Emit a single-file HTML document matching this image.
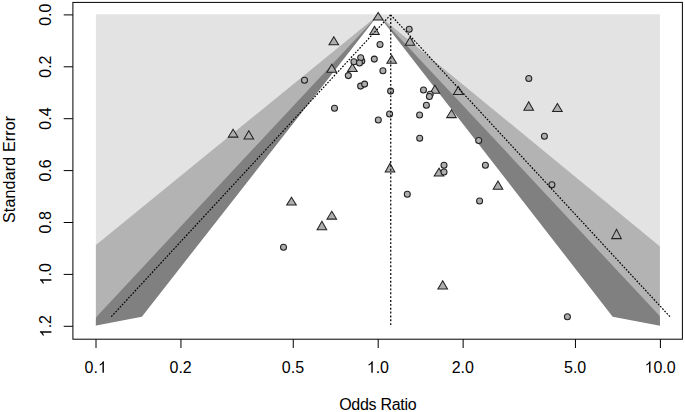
<!DOCTYPE html>
<html><head><meta charset="utf-8"><style>
html,body{margin:0;padding:0;background:#fff;width:685px;height:412px;overflow:hidden}
svg{position:absolute;left:0;top:0}
text{font-family:"Liberation Sans",sans-serif;font-size:16px;fill:#000}
</style></head><body>
<svg width="685" height="412" viewBox="0 0 685 412">
<defs><clipPath id="c"><rect x="95.90" y="14.30" width="564.00" height="312.00"/></clipPath>
<clipPath id="c2"><rect x="95.90" y="14.30" width="564.00" height="315.00"/></clipPath></defs>

<rect x="95.90" y="14.30" width="564.00" height="312.00" fill="#e3e3e3"/>
<g clip-path="url(#c)">
<polygon points="378.20,14.90 -3.65,326.30 757.02,326.30" fill="#b3b3b3"/>
<polygon points="378.20,14.90 96.60,316.70 92.00,326.30 663.20,326.30 660.36,316.70" fill="#808080"/>
</g>
<g clip-path="url(#c2)"><polygon points="378.20,14.90 141.87,316.70 92.00,326.30 90.00,329.30 665.20,329.30 663.20,326.30 612.66,316.70" fill="#fff"/></g>
<g fill="#adadad" stroke="#222" stroke-width="1.05">
<path d="M378.20,12.45L383.00,19.90L373.40,19.90ZM374.50,26.25L379.30,34.50L369.70,34.50ZM333.80,36.75L338.60,44.80L329.00,44.80ZM410.00,37.05L414.80,45.30L405.20,45.30ZM331.80,64.25L336.60,72.30L327.00,72.30ZM352.40,63.65L357.20,71.50L347.60,71.50ZM391.70,55.35L396.50,63.20L386.90,63.20ZM434.90,85.35L439.70,93.20L430.10,93.20ZM458.30,86.45L463.10,94.50L453.50,94.50ZM451.50,109.65L456.30,117.60L446.70,117.60ZM233.10,129.15L237.90,137.10L228.30,137.10ZM248.80,130.75L253.60,138.90L244.00,138.90ZM528.70,101.85L533.50,110.20L523.90,110.20ZM557.40,103.55L562.20,111.40L552.60,111.40ZM390.00,163.25L394.80,172.00L385.20,172.00ZM439.00,168.15L443.80,175.90L434.20,175.90ZM498.00,181.05L502.80,189.30L493.20,189.30ZM291.50,197.25L296.30,204.90L286.70,204.90ZM331.80,211.25L336.60,219.10L327.00,219.10ZM321.90,221.35L326.70,229.80L317.10,229.80ZM616.50,229.35L621.30,238.60L611.70,238.60ZM442.70,280.85L447.50,288.90L437.90,288.90Z" stroke-linejoin="miter"/>
<circle cx="409.20" cy="29.30" r="3.0"/>
<circle cx="380.00" cy="44.50" r="3.0"/>
<circle cx="361.80" cy="60.90" r="3.0"/>
<circle cx="360.70" cy="57.80" r="3.0"/>
<circle cx="353.90" cy="61.80" r="3.0"/>
<circle cx="359.50" cy="63.00" r="3.0"/>
<circle cx="374.30" cy="59.10" r="3.0"/>
<circle cx="348.30" cy="75.60" r="3.0"/>
<circle cx="304.50" cy="80.30" r="3.0"/>
<circle cx="382.90" cy="70.80" r="3.0"/>
<circle cx="360.60" cy="86.10" r="3.0"/>
<circle cx="364.60" cy="84.10" r="3.0"/>
<circle cx="390.60" cy="91.10" r="3.0"/>
<circle cx="423.50" cy="90.00" r="3.0"/>
<circle cx="430.20" cy="94.30" r="3.0"/>
<circle cx="429.40" cy="96.50" r="3.0"/>
<circle cx="426.40" cy="105.20" r="3.0"/>
<circle cx="334.50" cy="108.20" r="3.0"/>
<circle cx="389.60" cy="113.90" r="3.0"/>
<circle cx="419.60" cy="115.00" r="3.0"/>
<circle cx="378.30" cy="119.90" r="3.0"/>
<circle cx="419.70" cy="138.20" r="3.0"/>
<circle cx="478.70" cy="140.50" r="3.0"/>
<circle cx="544.40" cy="136.30" r="3.0"/>
<circle cx="528.80" cy="78.40" r="3.0"/>
<circle cx="444.00" cy="165.30" r="3.0"/>
<circle cx="444.00" cy="172.00" r="3.0"/>
<circle cx="485.40" cy="165.30" r="3.0"/>
<circle cx="407.30" cy="194.30" r="3.0"/>
<circle cx="479.60" cy="201.00" r="3.0"/>
<circle cx="551.90" cy="184.70" r="3.0"/>
<circle cx="283.50" cy="247.30" r="3.0"/>
<circle cx="567.40" cy="316.80" r="3.0"/>
</g>
<g stroke="#000" stroke-width="1.25" fill="none">
<line x1="390.70" y1="14.90" x2="390.70" y2="326.30" stroke="#1c1c1c" stroke-width="1.4" stroke-dasharray="1.9 1.96" stroke-dashoffset="0.5"/>
<path d="M390.60,14.90L111.24,316.70M390.60,14.90L669.96,316.70" stroke-dasharray="1.7 1.45" stroke-width="1.2" stroke="#000"/>
</g>
<rect x="72.9" y="2.4" width="609.50" height="336.80" fill="none" stroke="#000" stroke-width="1"/>
<path d="M63.70,14.90H72.90M63.70,66.80H72.90M63.70,118.70H72.90M63.70,170.60H72.90M63.70,222.50H72.90M63.70,274.40H72.90M63.70,326.30H72.90M96.00,339.20V348.00M180.95,339.20V348.00M293.25,339.20V348.00M378.20,339.20V348.00M463.15,339.20V348.00M575.45,339.20V348.00M660.40,339.20V348.00" stroke="#000" stroke-width="1" fill="none"/>
<g transform="translate(95.70,372.8)"><text x="0" y="0" text-anchor="middle">0. </text><path transform="translate(2.223,0) scale(0.0078125,-0.0078125)" d="M763,0L583,0L583,1147Q518,1085 422.5,1029Q327,973 233,929L233,1103Q384,1174 490.5,1269Q597,1364 648,1466L763,1466Z"/></g>
<g transform="translate(180.65,372.8)"><text x="0" y="0" text-anchor="middle">0.2</text></g>
<g transform="translate(292.95,372.8)"><text x="0" y="0" text-anchor="middle">0.5</text></g>
<g transform="translate(377.90,372.8)"><text x="0" y="0" text-anchor="middle"> .0</text><path transform="translate(-11.121,0) scale(0.0078125,-0.0078125)" d="M763,0L583,0L583,1147Q518,1085 422.5,1029Q327,973 233,929L233,1103Q384,1174 490.5,1269Q597,1364 648,1466L763,1466Z"/></g>
<g transform="translate(462.85,372.8)"><text x="0" y="0" text-anchor="middle">2.0</text></g>
<g transform="translate(575.15,372.8)"><text x="0" y="0" text-anchor="middle">5.0</text></g>
<g transform="translate(660.10,372.8)"><text x="0" y="0" text-anchor="middle"> 0.0</text><path transform="translate(-15.570,0) scale(0.0078125,-0.0078125)" d="M763,0L583,0L583,1147Q518,1085 422.5,1029Q327,973 233,929L233,1103Q384,1174 490.5,1269Q597,1364 648,1466L763,1466Z"/></g>
<g transform="translate(51.4,14.70) rotate(-90)"><text x="0" y="0" text-anchor="middle">0.0</text></g>
<g transform="translate(51.4,66.60) rotate(-90)"><text x="0" y="0" text-anchor="middle">0.2</text></g>
<g transform="translate(51.4,118.50) rotate(-90)"><text x="0" y="0" text-anchor="middle">0.4</text></g>
<g transform="translate(51.4,170.40) rotate(-90)"><text x="0" y="0" text-anchor="middle">0.6</text></g>
<g transform="translate(51.4,222.30) rotate(-90)"><text x="0" y="0" text-anchor="middle">0.8</text></g>
<g transform="translate(51.4,274.20) rotate(-90)"><text x="0" y="0" text-anchor="middle"> .0</text><path transform="translate(-11.121,0) scale(0.0078125,-0.0078125)" d="M763,0L583,0L583,1147Q518,1085 422.5,1029Q327,973 233,929L233,1103Q384,1174 490.5,1269Q597,1364 648,1466L763,1466Z"/></g>
<g transform="translate(51.4,326.10) rotate(-90)"><text x="0" y="0" text-anchor="middle"> .2</text><path transform="translate(-11.121,0) scale(0.0078125,-0.0078125)" d="M763,0L583,0L583,1147Q518,1085 422.5,1029Q327,973 233,929L233,1103Q384,1174 490.5,1269Q597,1364 648,1466L763,1466Z"/></g>
<text x="377.9" y="409.5" text-anchor="middle" textLength="77.4" lengthAdjust="spacing">Odds Ratio</text>
<text transform="translate(15.2,169.45) rotate(-90)" text-anchor="middle" textLength="107.3" lengthAdjust="spacing">Standard Error</text>
</svg>
</body></html>
